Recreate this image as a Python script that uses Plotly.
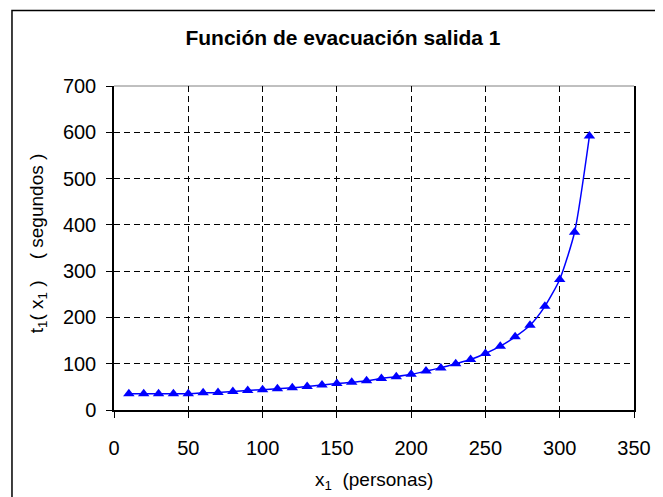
import plotly.graph_objects as go

# Data
x_personas = [10, 20, 30, 40, 50, 60, 70, 80, 90, 100, 110, 120, 130, 140, 150, 160,
              170, 180, 190, 200, 210, 220, 230, 240, 250, 260, 270, 280, 290, 300, 310, 320]
t_segundos = [35, 35, 35, 35, 35, 37, 38, 40, 42, 44, 46, 48, 51, 54, 57, 60,
              63, 68, 72, 77, 84, 91, 100, 109, 122, 138, 158, 183, 224, 282, 384, 592]

x_ticks = [0, 50, 100, 150, 200, 250, 300, 350]
y_ticks = [0, 100, 200, 300, 400, 500, 600, 700]

title_text = "Función de evacuación salida 1"
x_title = "x<sub>1</sub>  (personas)"
y_title = "t<sub>1</sub>( x<sub>1</sub> )    ( segundos )"

# The page body has an 8px margin, so the figure sits at (8, 8) in the window.
OFF = 8
W, H = 663 - OFF, 497 - OFF
L = 113.5 - OFF
R = W - (638.5 - OFF)
T = 86 - OFF
B = H - (410 - OFF)
pw = W - L - R
ph = H - T - B

FONT = "Liberation Sans, Arial, sans-serif"


def px_x(p):
    return (p - OFF - L) / pw


def px_y(p):
    return (H - B - (p - OFF)) / ph


fig = go.Figure()
fig.add_trace(go.Scatter(
    x=x_personas, y=t_segundos, mode="lines+markers",
    line=dict(color="#0000FF", width=1.5, shape="spline", smoothing=0.6),
    marker=dict(symbol="triangle-up", size=10, color="#0000FF"),
    showlegend=False, hoverinfo="x+y",
))

fig.update_layout(
    width=W, height=H,
    margin=dict(l=L, r=R, t=T, b=B, pad=0),
    paper_bgcolor="white", plot_bgcolor="white",
    font=dict(family=FONT, color="black", size=20),
    title=dict(text="<b>" + title_text + "</b>", x=(343 - OFF) / W, xanchor="center",
               y=1 - (38 - OFF) / H, yanchor="middle", yref="container",
               font=dict(family=FONT, size=21, color="black")),
    xaxis=dict(range=[0, 350], tickvals=x_ticks, ticktext=[str(v) for v in x_ticks],
               showgrid=True, gridcolor="#000000", gridwidth=1, griddash="6px,4px",
               showline=True, linecolor="black", linewidth=1.5, mirror=False,
               ticks="outside", ticklen=6, tickcolor="black", tickwidth=1,
               ticklabelstandoff=13,
               zeroline=False, tickfont=dict(size=20, family=FONT, color="black"),
               fixedrange=True),
    yaxis=dict(range=[0, 700], tickvals=y_ticks, ticktext=[str(v) for v in y_ticks],
               showgrid=True, gridcolor="#000000", gridwidth=1, griddash="6px,4px",
               showline=True, linecolor="black", linewidth=1.5, mirror=True,
               ticks="outside", ticklen=6, tickcolor="black", tickwidth=1,
               ticklabelstandoff=6,
               zeroline=False, tickfont=dict(size=20, family=FONT, color="black"),
               fixedrange=True),
)

# Axis titles as annotations (pixel positions converted to paper coords)
fig.add_annotation(text=y_title, xref="paper", yref="paper",
                   x=px_x(37), y=px_y(243), textangle=-90,
                   showarrow=False, xanchor="center", yanchor="middle",
                   font=dict(family=FONT, size=19, color="black"))
fig.add_annotation(text=x_title, xref="paper", yref="paper",
                   x=0.5, y=px_y(481),
                   showarrow=False, xanchor="center", yanchor="middle",
                   font=dict(family=FONT, size=19, color="black"))

# Plot-area top border (gray) and outer chart frame
fig.add_shape(type="line", xref="paper", yref="paper", x0=0, x1=1, y0=1, y1=1,
              line=dict(color="#808080", width=1), layer="below")
fig.add_shape(type="rect", xref="paper", yref="paper",
              x0=px_x(10.5), x1=px_x(700),
              y0=px_y(540), y1=px_y(10.5),
              line=dict(color="black", width=1.5), fillcolor="rgba(0,0,0,0)", layer="above")

fig.write_html("out.html")
